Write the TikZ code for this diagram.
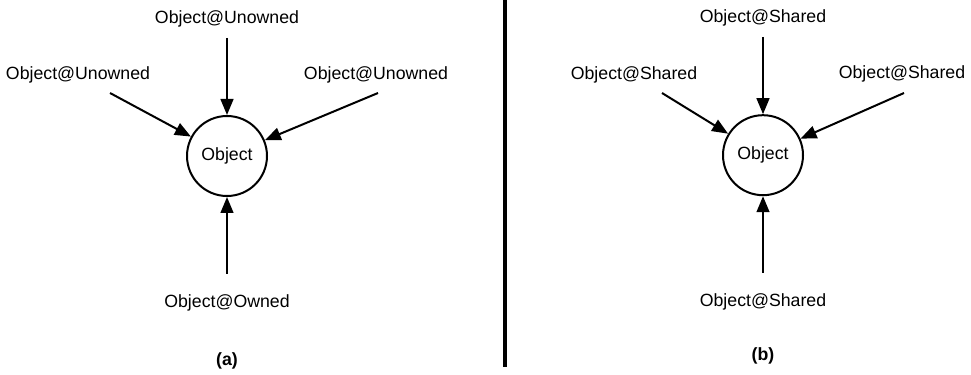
\documentclass[tikz,border=0pt]{standalone}
\usepackage{fontspec}
\setmainfont{Liberation Sans}
\usetikzlibrary{arrows.meta}

\tikzset{
    obj/.style={draw, circle, line width=0.05cm, minimum size=2cm, inner sep=0pt},
    lbl/.style={font=\fontsize{12.6}{15}\selectfont},
    arr/.style={line width=0.05cm, -{Triangle[length=0.4cm, width=0.32cm]}}
}

\begin{document}
\begin{tikzpicture}

    \useasboundingbox (0, 0) rectangle (24.275, 9.35);

    % left part: unowned and owned
    \node[obj, lbl] (objA) at (5.675, 5.45) {Object};
    \node[lbl] (topA) at (5.675, 8.875) {Object@Unowned};
    \node[lbl] (leftA) at (1.95, 7.475) {Object@Unowned};
    \node[lbl] (rightA) at (9.4, 7.475) {Object@Unowned};
    \node[lbl] (botA) at (5.675, 1.775) {Object@Owned};
    \node[lbl, font=\fontsize{12.6}{15}\selectfont\bfseries] (capA) at (5.675, 0.33) {(a)};

    \coordinate (tA) at (5.675, 8.4);
    \coordinate (lA) at (2.75, 7.025);
    \coordinate (rA) at (9.45, 7.025);
    \coordinate (bA) at (5.675, 2.5);

    \draw[arr] (tA) -- (objA);
    \draw[arr] (lA) -- (objA);
    \draw[arr] (rA) -- (objA);
    \draw[arr] (bA) -- (objA);

    % divider
    \draw[line width=0.1cm] (12.625, 9.35) -- (12.625, 0.175);

    % right part: shared
    \node[obj, lbl] (objB) at (19.075, 5.47) {Object};
    \node[lbl] (topB) at (19.075, 8.9) {Object@Shared};
    \node[lbl] (leftB) at (15.85, 7.475) {Object@Shared};
    \node[lbl] (rightB) at (22.55, 7.5) {Object@Shared};
    \node[lbl] (botB) at (19.075, 1.8) {Object@Shared};
    \node[lbl, font=\fontsize{12.6}{15}\selectfont\bfseries] (capB) at (19.075, 0.455) {(b)};

    \coordinate (tB) at (19.075, 8.425);
    \coordinate (lB) at (16.55, 7.025);
    \coordinate (rB) at (22.6, 7.025);
    \coordinate (bB) at (19.075, 2.525);

    \draw[arr] (tB) -- (objB);
    \draw[arr] (lB) -- (objB);
    \draw[arr] (rB) -- (objB);
    \draw[arr] (bB) -- (objB);

\end{tikzpicture}
\end{document}
